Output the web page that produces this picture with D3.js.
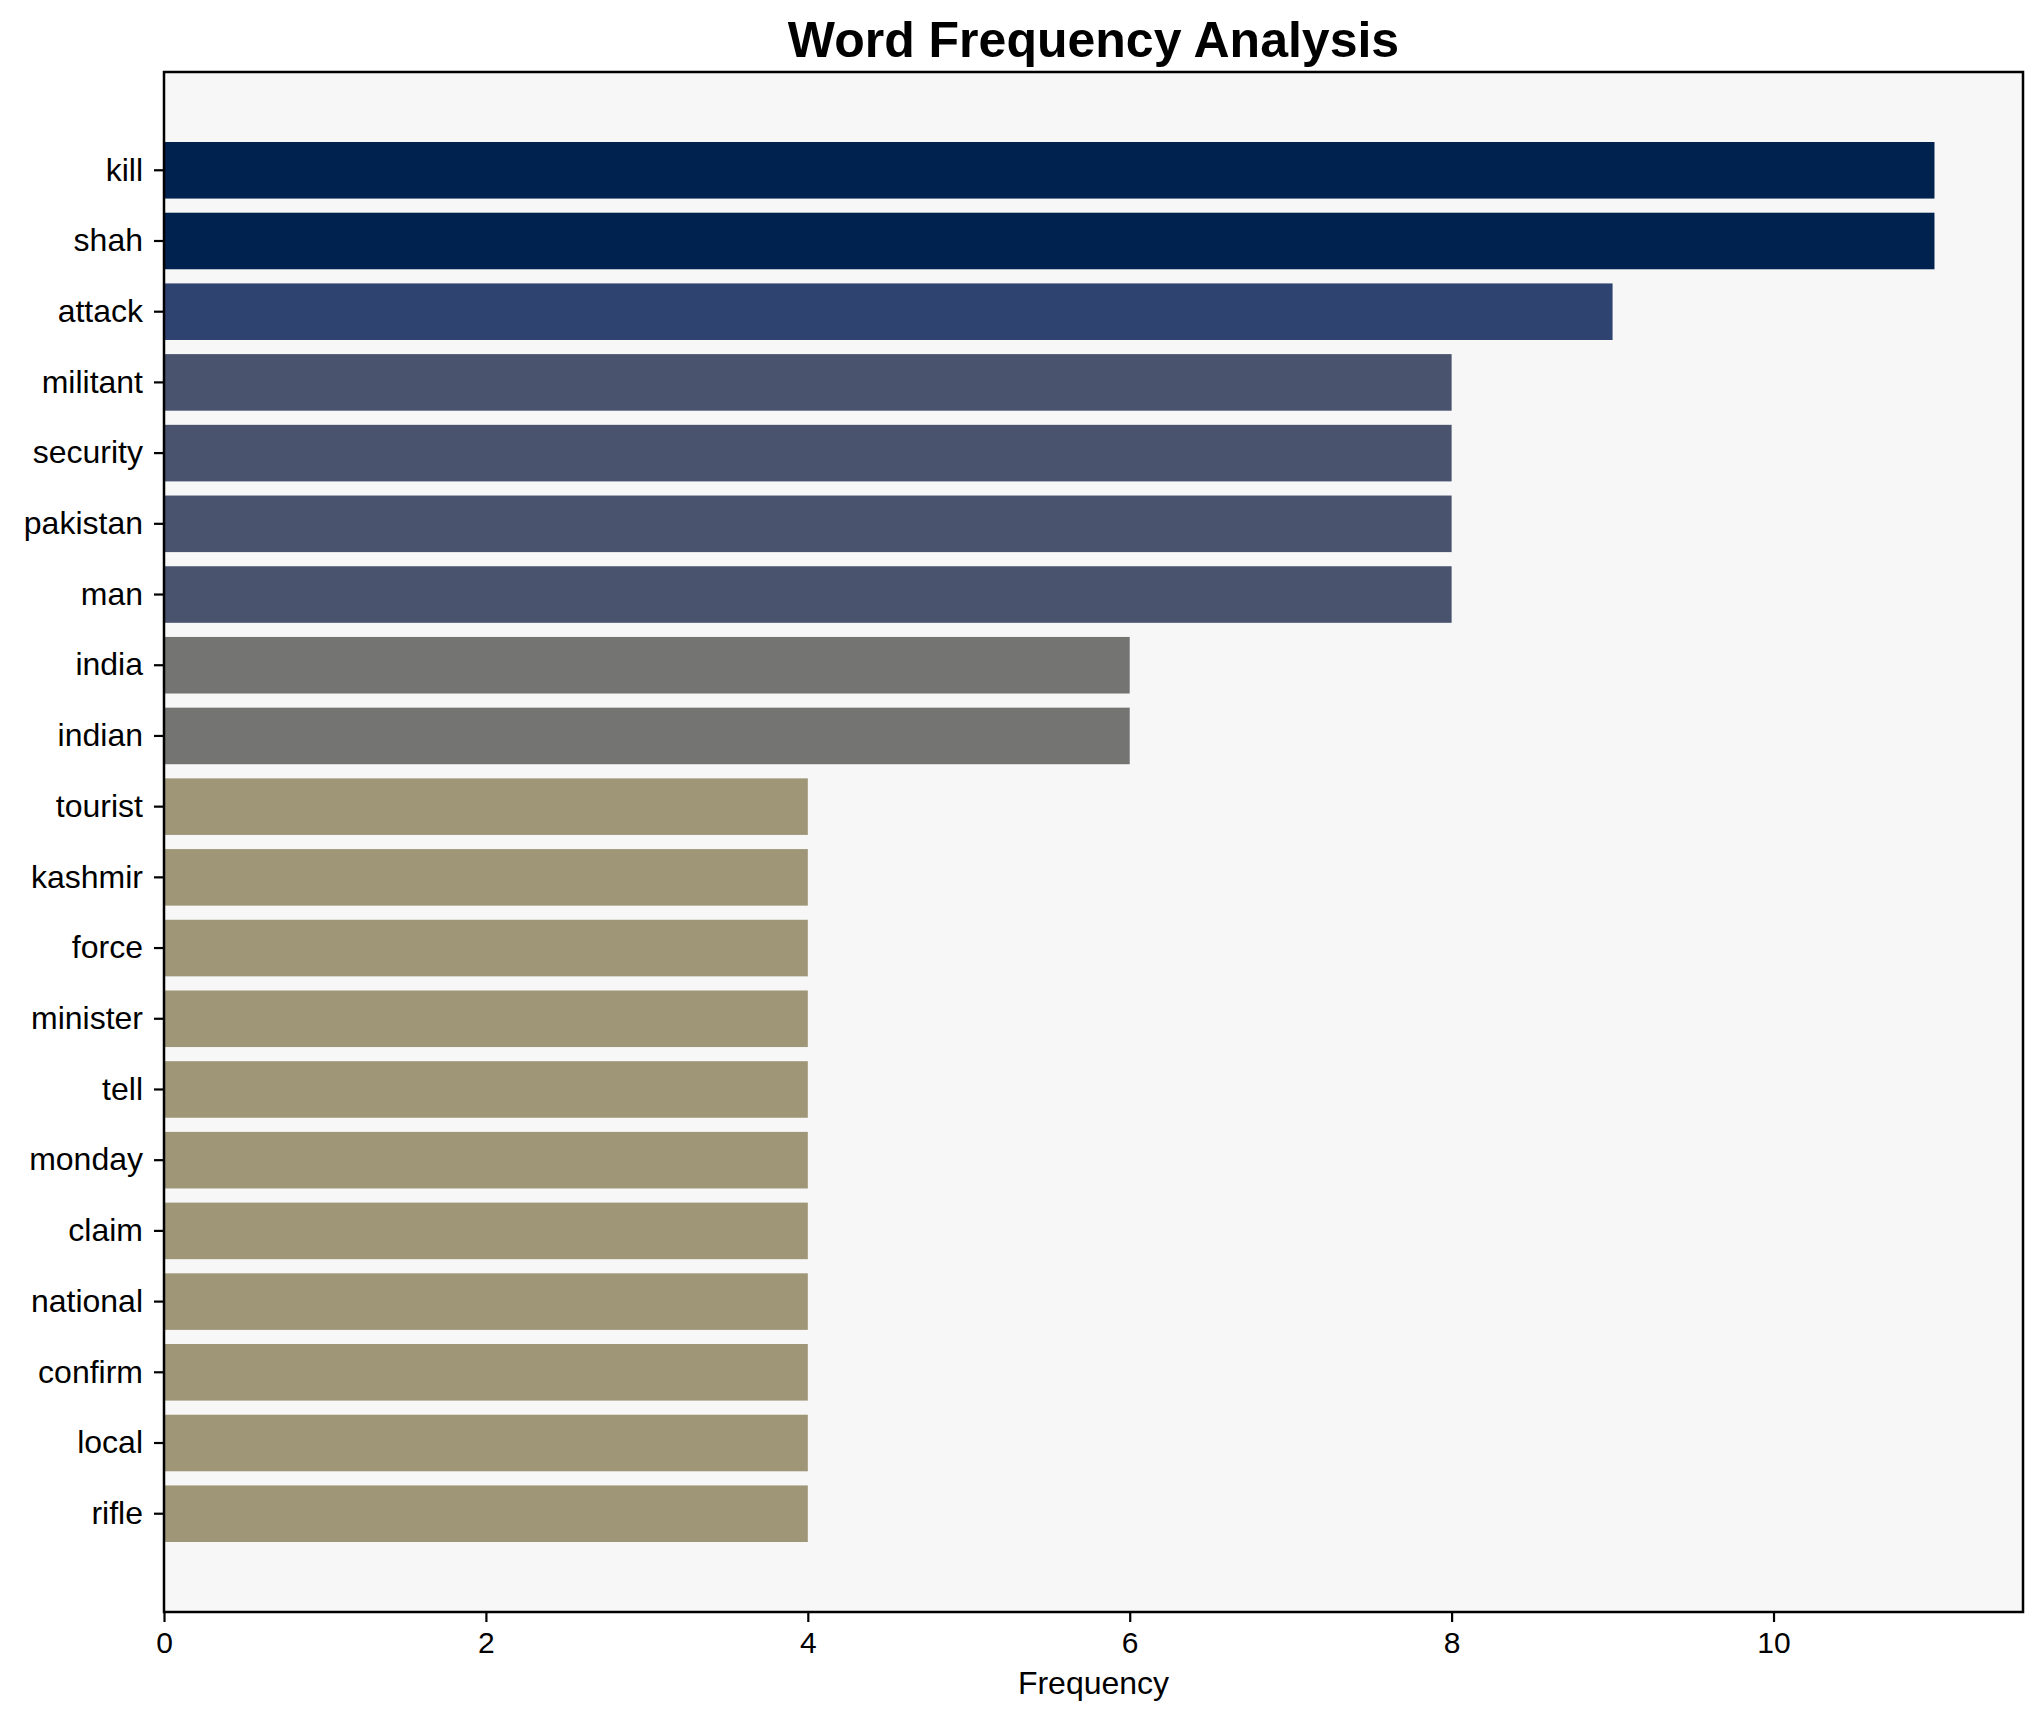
<!DOCTYPE html>
<html>
<head>
<meta charset="utf-8">
<script src="https://cdn.jsdelivr.net/npm/d3@7"></script>
<style>
  html, body { margin: 0; padding: 0; background: #ffffff; }
  svg { display: block; }
  text { font-family: "Liberation Sans", Arial, sans-serif; fill: #000; }
</style>
</head>
<body>
<script>
const words = ["kill","shah","attack","militant","security","pakistan","man","india","indian","tourist","kashmir","force","minister","tell","monday","claim","national","confirm","local","rifle"];
const counts = [11,11,9,8,8,8,8,6,6,4,4,4,4,4,4,4,4,4,4,4];
const barColors = ["#00224e","#00224e","#2f4370","#49536d","#49536d","#49536d","#49536d","#747473","#747473","#9e9676","#9e9676","#9e9676","#9e9676","#9e9676","#9e9676","#9e9676","#9e9676","#9e9676","#9e9676","#9e9676"];
const xTicks = [0,2,4,6,8,10];
const titleText = "Word Frequency Analysis";
const xLabel = "Frequency";

const W = 2043, H = 1722;
const L = 164, R = 2023, T = 72, B = 1612;

const svg = d3.select("body").append("svg").attr("width", W).attr("height", H);

const x = d3.scaleLinear().domain([0, 11.55]).range([L, R]);
const y = d3.scaleBand().domain(words).range([T, B]).paddingInner(0.2).paddingOuter(0.99);

svg.append("rect").attr("x", L).attr("y", T).attr("width", R - L).attr("height", B - T).attr("fill", "#f7f7f7");

svg.append("g").selectAll("rect").data(words).join("rect")
  .attr("x", x(0))
  .attr("y", d => y(d))
  .attr("width", (d, i) => x(counts[i]) - x(0))
  .attr("height", y.bandwidth())
  .attr("fill", (d, i) => barColors[i]);

// y axis
const yAxis = svg.append("g").attr("transform", `translate(${L},0)`)
  .call(d3.axisLeft(y).tickSizeOuter(0).tickSize(10).tickPadding(11));
yAxis.select(".domain").remove();
yAxis.selectAll(".tick line").attr("stroke", "#000").attr("stroke-width", 2.2);
yAxis.selectAll(".tick text").attr("font-size", 32).attr("font-family", "Liberation Sans, Arial, sans-serif");

// x axis
const xAxis = svg.append("g").attr("transform", `translate(0,${B})`)
  .call(d3.axisBottom(x).tickValues(xTicks).tickFormat(d3.format("d")).tickSizeOuter(0).tickSize(10).tickPadding(10));
xAxis.select(".domain").remove();
xAxis.selectAll(".tick line").attr("stroke", "#000").attr("stroke-width", 2.2);
xAxis.selectAll(".tick text").attr("font-size", 30).attr("font-family", "Liberation Sans, Arial, sans-serif");

// frame
svg.append("rect").attr("x", L).attr("y", T).attr("width", R - L).attr("height", B - T)
  .attr("fill", "none").attr("stroke", "#000").attr("stroke-width", 2.5);

svg.append("text").attr("x", (L + R) / 2).attr("y", 57).attr("text-anchor", "middle")
  .attr("font-size", 50).attr("font-weight", "bold").text(titleText);

svg.append("text").attr("x", (L + R) / 2).attr("y", 1694).attr("text-anchor", "middle")
  .attr("font-size", 32).text(xLabel);
</script>
</body>
</html>
